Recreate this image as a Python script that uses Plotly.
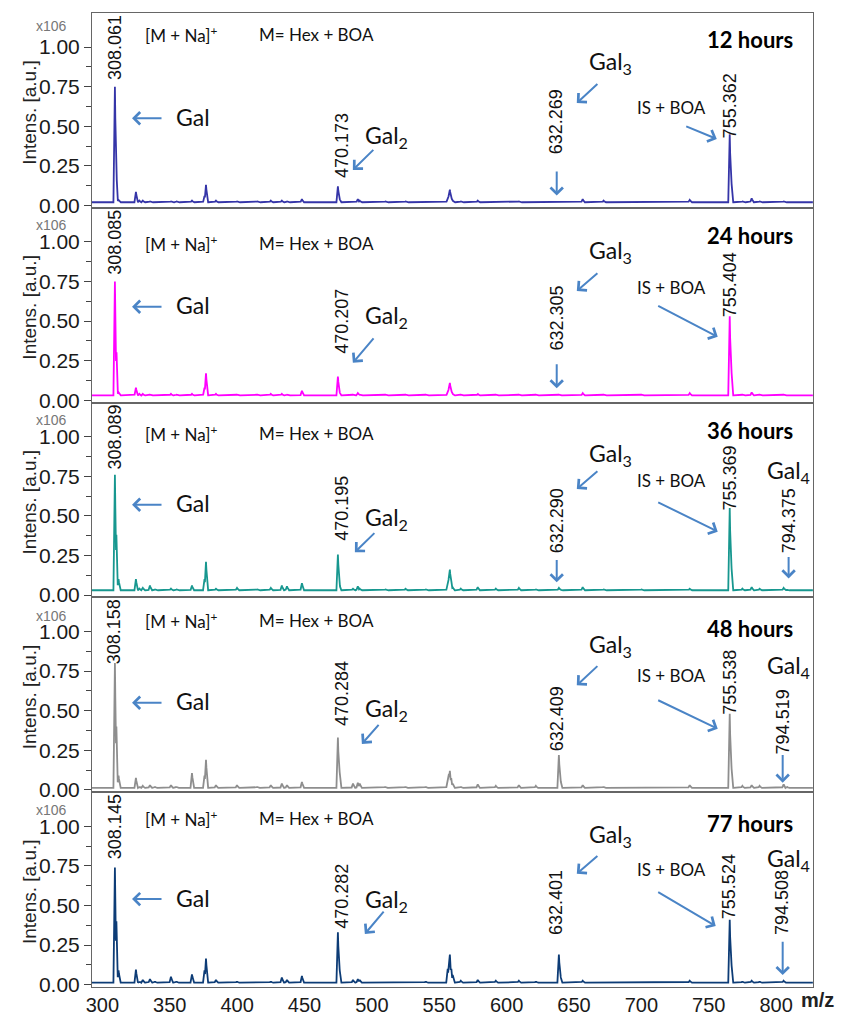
import numpy as np
import plotly.graph_objects as go
from plotly.subplots import make_subplots

# ---------------- data ----------------
peak_mz = [309.3, 310.4, 312.0, 324.9, 327.5, 330.0, 335.3, 339.0, 350.9, 355.0,
           366.5, 375.8, 376.9, 384.3, 399.9, 415.0, 425.0, 433.2, 437.0, 448.1,
           474.8, 475.8, 486.0, 489.6, 491.0, 510.0, 525.0, 540.0, 556.3, 557.2,
           557.9, 558.8, 560.0, 566.0, 578.6, 592.0, 609.1, 621.7, 638.8, 639.8,
           656.5, 672.0, 700.0, 735.9, 765.6, 766.6, 775.0, 781.9, 787.8, 805.6,
           808.0]

intens_12h = [0.75, 0.21, 0.035, 0.085, 0.03, 0.03, 0.025, 0.02, 0.025, 0.025,
              0.03, 0.06, 0.13, 0.03, 0.025, 0.025, 0.03, 0.03, 0.025, 0.04,
              0.12, 0.05, 0.02, 0.04, 0.03, 0.025, 0.025, 0.02, 0.04, 0.07,
              0.10, 0.06, 0.03, 0.025, 0.03, 0.02, 0.025, 0.02, 0.02, 0.02,
              0.04, 0.03, 0.02, 0.035, 0.45, 0.20, 0.025, 0.045, 0.025, 0.025,
              0.02]
intens_24h = [0.75, 0.33, 0.05, 0.08, 0.04, 0.04, 0.035, 0.03, 0.04, 0.035,
              0.04, 0.08, 0.17, 0.04, 0.035, 0.035, 0.04, 0.04, 0.035, 0.06,
              0.15, 0.06, 0.035, 0.045, 0.035, 0.035, 0.035, 0.035, 0.05, 0.08,
              0.11, 0.07, 0.04, 0.035, 0.04, 0.035, 0.035, 0.035, 0.035, 0.03,
              0.045, 0.035, 0.035, 0.045, 0.53, 0.25, 0.035, 0.05, 0.035, 0.035,
              0.03]
intens_36h = [0.76, 0.38, 0.10, 0.10, 0.04, 0.045, 0.06, 0.035, 0.04, 0.035,
              0.06, 0.10, 0.21, 0.04, 0.045, 0.035, 0.045, 0.06, 0.055, 0.075,
              0.255, 0.08, 0.04, 0.055, 0.04, 0.035, 0.04, 0.035, 0.07, 0.12,
              0.16, 0.10, 0.05, 0.04, 0.05, 0.04, 0.045, 0.035, 0.045, 0.035,
              0.05, 0.035, 0.035, 0.04, 0.55, 0.24, 0.04, 0.05, 0.04, 0.045,
              0.035]
intens_48h = [0.80, 0.40, 0.09, 0.075, 0.02, 0.025, 0.03, 0.02, 0.03, 0.02,
              0.105, 0.09, 0.19, 0.03, 0.03, 0.02, 0.03, 0.04, 0.03, 0.05,
              0.33, 0.15, 0.04, 0.045, 0.04, 0.02, 0.02, 0.02, 0.06, 0.10,
              0.12, 0.08, 0.04, 0.02, 0.035, 0.025, 0.03, 0.025, 0.22, 0.08,
              0.03, 0.02, 0.015, 0.03, 0.48, 0.20, 0.025, 0.03, 0.025, 0.035,
              0.02]
intens_77h = [0.74, 0.40, 0.09, 0.095, 0.02, 0.03, 0.035, 0.02, 0.05, 0.02,
              0.065, 0.09, 0.165, 0.03, 0.02, 0.015, 0.02, 0.045, 0.03, 0.055,
              0.33, 0.13, 0.03, 0.035, 0.03, 0.015, 0.015, 0.02, 0.10, 0.15,
              0.19, 0.12, 0.06, 0.025, 0.03, 0.025, 0.025, 0.02, 0.19, 0.07,
              0.025, 0.015, 0.015, 0.025, 0.41, 0.18, 0.02, 0.025, 0.02, 0.025,
              0.015]
baselines = [0.02, 0.03, 0.03, 0.012, 0.012]

time_labels = ["12 hours", "24 hours", "36 hours", "48 hours", "77 hours"]
lab_308 = ["308.061", "308.085", "308.089", "308.158", "308.145"]
lab_470 = ["470.173", "470.207", "470.195", "470.284", "470.282"]
lab_632 = ["632.269", "632.305", "632.290", "632.409", "632.401"]
lab_755 = ["755.362", "755.404", "755.369", "755.538", "755.524"]
lab_794 = [None, None, "794.375", "794.519", "794.508"]

x_ticks = [300, 350, 400, 450, 500, 550, 600, 650, 700, 750, 800]
y_ticks = [0.0, 0.25, 0.5, 0.75, 1.0]

series = [intens_12h, intens_24h, intens_36h, intens_48h, intens_77h]
colors = ["#3535a8", "#ff00ff", "#17978f", "#8e8e8e", "#0d3c76"]

# ---------------- figure ----------------
fig = make_subplots(rows=5, cols=1, shared_xaxes=True, vertical_spacing=0)

grid = np.arange(292.3, 827.4, 0.1)
half_w = 1.1
for i, (vals, base, col) in enumerate(zip(series, baselines, colors)):
    prof = np.full_like(grid, base)
    for p, h in zip(peak_mz, vals):
        tri = base + (h - base) * np.clip(1 - np.abs(grid - p) / half_w, 0, None)
        prof = np.maximum(prof, tri)
    fig.add_trace(go.Scatter(x=grid, y=prof, mode="lines",
                             line=dict(color=col, width=1.8),
                             hoverinfo="skip", showlegend=False),
                  row=i + 1, col=1)

AX_FONT = "Liberation Sans, Arial, sans-serif"
TXT_FONT = "Lato, Open Sans, sans-serif"
ARROW_C = "#4a84c6"

for r in range(1, 6):
    fig.update_yaxes(range=[-0.015, 1.215], tickvals=y_ticks,
                     ticktext=[f"{v:.2f}" for v in y_ticks],
                     ticks="outside", ticklen=7, tickwidth=1.3, tickcolor="#444",
                     minor=dict(tickvals=[0.125, 0.375, 0.625, 0.875],
                                ticks="outside", ticklen=5, tickwidth=1.3,
                                tickcolor="#444"),
                     showline=True, mirror=True, linecolor="#666", linewidth=1.1,
                     showgrid=False, zeroline=False,
                     tickfont=dict(family=AX_FONT, size=21, color="#1a1a1a"),
                     row=r, col=1)
    fig.update_xaxes(range=[292.3, 827.4], tickvals=x_ticks,
                     ticks="", showline=True, mirror=True, linecolor="#666",
                     linewidth=1.1, showgrid=False, zeroline=False,
                     showticklabels=(r == 5),
                     tickfont=dict(family=AX_FONT, size=20, color="#1a1a1a"),
                     row=r, col=1)


def refs(r):
    s = "" if r == 1 else str(r)
    return "x" + s, "y" + s


def txt(r, x, y, text, size=17, angle=0, xanchor="center", family=TXT_FONT,
        color="#111"):
    xr, yr = refs(r)
    fig.add_annotation(x=x, y=y, xref=xr, yref=yr, text=text, showarrow=False,
                       textangle=angle, xanchor=xanchor, yanchor="middle",
                       font=dict(family=family, size=size, color=color))


def arrow(r, x0, y0, x1, y1):
    xr, yr = refs(r)
    fig.add_annotation(x=x1, y=y1, ax=x0, ay=y0, xref=xr, yref=yr, axref=xr,
                       ayref=yr, text="", showarrow=True, arrowhead=4,
                       arrowsize=1.2, arrowwidth=2, arrowcolor=ARROW_C,
                       standoff=0, startstandoff=0)


hdr_y = [1.08, 0.99, 1.02, 1.07, 1.05]
time_y = [1.05, 1.04, 1.04, 1.02, 1.02]
x106_y = [1.13, 1.105, 1.105, 1.10, 1.10]
gal_y = [0.56, 0.60, 0.58, 0.56, 0.55]
gal2_y = [0.435, 0.53, 0.48, 0.51, 0.53]
gal2_arr = [(502.2, 0.36, 485.9, 0.224), (502.2, 0.40, 485.9, 0.236),
            (503.0, 0.40, 487.4, 0.27), (506.0, 0.42, 492.6, 0.29),
            (509.7, 0.47, 494.8, 0.32)]
gal3_y = [0.90, 0.94, 0.89, 0.91, 0.94]
gal3_arr = [(0.776, 0.646), (0.81, 0.69), (0.79, 0.67), (0.79, 0.66), (0.82, 0.70)]
l470_y = [0.38, 0.50, 0.55, 0.61, 0.56]
l632_y = [0.53, 0.52, 0.47, 0.45, 0.52]
down632 = [(0.224, 0.062), (0.236, 0.075), (0.23, 0.08), None, None]
is_y = [0.62, 0.71, 0.72, 0.72, 0.73]
is_arr = [(732.2, 0.503, 756.0, 0.42), (711.4, 0.60, 756.7, 0.40),
          (711.4, 0.59, 756.7, 0.40), (711.4, 0.57, 756.7, 0.385),
          (711.4, 0.59, 755.2, 0.37)]
l755_y = [0.63, 0.73, 0.74, 0.68, 0.62]
gal4_y = [None, None, 0.78, 0.78, 0.79]
l794 = [None, None, (809.3, 0.47, 0.25, 0.105), (804.9, 0.43, 0.23, 0.045),
        (804.9, 0.52, 0.28, 0.06)]

for i in range(5):
    r = i + 1
    txt(r, 330.1, hdr_y[i], "[M + Na]<sup>+</sup>", size=17, xanchor="left")
    txt(r, 414.7, hdr_y[i], "M= Hex + BOA", size=17, xanchor="left")
    txt(r, 813.9, time_y[i], "<b>" + time_labels[i] + "</b>", size=22,
        xanchor="right", color="#000")
    xr, yr = refs(r)
    fig.add_annotation(x=(51 - 92) / 721, y=x106_y[i], xref="paper", yref=yr,
                       text="x106", showarrow=False, xanchor="center",
                       yanchor="middle",
                       font=dict(family=AX_FONT, size=14, color="#777"))
    fig.add_annotation(x=(17 - 92) / 721, y=0.49, xref="paper",
                       yref=yr + " domain", text="Intens. [a.u.]",
                       showarrow=False, textangle=-90,
                       font=dict(family=AX_FONT, size=19, color="#222"))
    # Gal
    txt(r, 309.3, 1.0, lab_308[i], angle=-90, family=AX_FONT, size=18)
    txt(r, 367.2, gal_y[i], "Gal", size=23)
    arrow(r, 345.0, gal_y[i] - 0.01, 322.0, gal_y[i] - 0.01)
    # Gal2
    txt(r, 477.7, l470_y[i], lab_470[i], angle=-90, family=AX_FONT, size=18)
    txt(r, 511.1, gal2_y[i], "Gal<sub>2</sub>", size=23)
    arrow(r, *gal2_arr[i])
    # Gal3
    txt(r, 637.2, l632_y[i], lab_632[i], angle=-90, family=AX_FONT, size=18)
    txt(r, 677.3, gal3_y[i], "Gal<sub>3</sub>", size=23)
    arrow(r, 668.5, gal3_arr[i][0], 652.1, gal3_arr[i][1])
    if down632[i] is not None:
        arrow(r, 637.2, down632[i][0], 637.2, down632[i][1])
    # IS + BOA
    txt(r, 722.6, is_y[i], "IS + BOA", size=17)
    arrow(r, *is_arr[i])
    txt(r, 765.6, l755_y[i], lab_755[i], angle=-90, family=AX_FONT, size=18)
    # Gal4
    if lab_794[i] is not None:
        xg, ylab, yt, yh = l794[i]
        txt(r, 809.3, gal4_y[i], "Gal<sub>4</sub>", size=23)
        txt(r, xg, ylab, lab_794[i], angle=-90, family=AX_FONT, size=18)
        arrow(r, xg, yt, xg, yh)

fig.add_annotation(x=(817 - 92) / 721, y=-(1016 - 1003) / 991, xref="paper",
                   yref="paper", text="<b>m/z</b>", showarrow=False,
                   xanchor="center", yanchor="middle",
                   font=dict(family=AX_FONT, size=20, color="#222"))

fig.update_layout(width=844, height=1028,
                  margin=dict(l=92, r=31, t=12, b=25),
                  paper_bgcolor="white", plot_bgcolor="white",
                  showlegend=False)

fig.write_html("out.html")
